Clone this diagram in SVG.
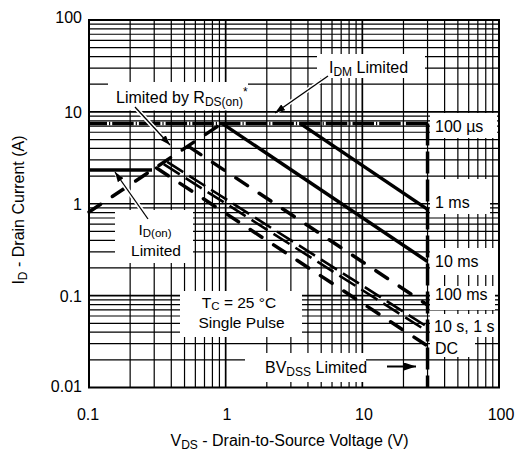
<svg xmlns="http://www.w3.org/2000/svg" width="517" height="451" viewBox="0 0 517 451">
<defs>
<style>
text{font-family:"Liberation Sans",Arial,Helvetica,sans-serif;font-size:16px;fill:#000}
.sub{font-size:12px}
.two{font-size:15.5px}
.two .sub{font-size:11.5px}
.grid{stroke:#000;stroke-width:1.2;fill:none}
.major{stroke:#000;stroke-width:1.7;fill:none}
.box{fill:#fff;stroke:none}
.curve{stroke:#000;fill:none;stroke-width:3.5}
.dash{stroke-dasharray:14 14;stroke-linecap:round}
.dbl{stroke-width:2.6;stroke-dasharray:19 7}
.halo{stroke:#fff;stroke-width:4.5;fill:none}
.arrow{stroke:#000;stroke-width:1.3;fill:none;marker-end:url(#ah)}
</style>
<marker id="ah" viewBox="0 0 10 7" refX="10" refY="3.5" markerWidth="10" markerHeight="7" markerUnits="userSpaceOnUse" orient="auto"><path d="M0,0 L10,3.5 L0,7 z" fill="#000"/></marker>
<marker id="ah2" viewBox="0 0 12 8" refX="12" refY="4" markerWidth="12" markerHeight="8" markerUnits="userSpaceOnUse" orient="auto"><path d="M0,0 L12,4 L0,8 z" fill="#000"/></marker>
</defs>
<rect width="517" height="451" fill="#fff"/>
<g id="grid">
<path class="grid" d="M130.14 20V387.5M154.21 20V387.5M171.28 20V387.5M184.53 20V387.5M195.35 20V387.5M204.5 20V387.5M212.42 20V387.5M219.42 20V387.5M266.81 20V387.5M290.88 20V387.5M307.95 20V387.5M321.2 20V387.5M332.02 20V387.5M341.17 20V387.5M349.09 20V387.5M356.09 20V387.5M403.48 20V387.5M427.55 20V387.5M444.62 20V387.5M457.87 20V387.5M468.69 20V387.5M477.84 20V387.5M485.76 20V387.5M492.76 20V387.5
M89 359.84H499M89 343.66H499M89 332.19H499M89 323.28H499M89 316.01H499M89 309.86H499M89 304.53H499M89 299.83H499M89 267.97H499M89 251.79H499M89 240.32H499M89 231.41H499M89 224.14H499M89 217.99H499M89 212.66H499M89 207.96H499M89 176.09H499M89 159.91H499M89 148.44H499M89 139.53H499M89 132.26H499M89 126.11H499M89 120.78H499M89 116.08H499M89 84.22H499M89 68.04H499M89 56.57H499M89 47.66H499M89 40.39H499M89 34.24H499M89 28.91H499M89 24.21H499"/>
<path class="major" d="M225.67 20V387.5M362.34 20V387.5M89 295.63H499M89 203.75H499M89 111.88H499"/>
</g>
<g id="label-boxes">
<rect class="box" x="108" y="82" width="140" height="28.5"/>
<rect class="box" x="317" y="54" width="108" height="24"/>
<rect class="box" x="115" y="210" width="78" height="53"/>
<rect class="box" x="180" y="291" width="122" height="46"/>
<rect class="box" x="245" y="353" width="121" height="29"/>
<rect class="box" x="430" y="113" width="67" height="25"/>
<rect class="box" x="430" y="179" width="60" height="35"/>
<rect class="box" x="430" y="248" width="70" height="27"/>
<rect class="box" x="430" y="286" width="65" height="24"/>
<rect class="box" x="430" y="314" width="68" height="23"/>
<rect class="box" x="430" y="336" width="45" height="21"/>
</g>
<rect id="frame" x="89" y="20" width="410" height="367.5" fill="none" stroke="#000" stroke-width="2"/>
<g id="connectors">
<path id="idm-100us" class="curve" d="M89 123.4H427.55" stroke-width="5" stroke-dasharray="21.5 2 1.2 2" stroke-dashoffset="3.5"/>
<path id="bvdss-dc" class="curve" d="M427.55 123.4V387.5" stroke-dasharray="22 6"/>
<path id="rds-on" class="curve dash" d="M89 212L222 123.4" stroke-width="4" stroke-dasharray="12 16"/>
<path id="id-on" class="curve" d="M89 170H152" stroke-width="4"/>
<path id="ms1" class="curve" d="M300 123.4L427.55 209.4"/>
<path id="ms10" class="curve" d="M222 123.4L427.55 261.5"/>
<path id="ms100" class="curve dash" d="M189.2 146.9L427.55 305"/>
<path id="s10" class="curve dbl" d="M167.2 161.9L427.55 327"/>
<path id="s1" class="curve dbl" d="M163.7 164.2L427.55 331.5"/>
<path id="dc" class="curve dash" d="M156.6 168L427.55 346"/>
<path class="halo" d="M135 107L168 143"/>
<path class="arrow" d="M135 107L170 145"/>
<path class="halo" d="M148 219L116.5 174"/>
<path class="arrow" d="M148 219L115 172"/>
<path class="halo" d="M328 76L277 111.5"/>
<path class="arrow" d="M328 76L275 113"/>
<path d="M387 366.5H416" stroke="#000" stroke-width="2" marker-end="url(#ah2)"/>
</g>
<g id="labels">
<text x="116" y="103">Limited by R<tspan class="sub" dy="3">DS(on)</tspan><tspan class="sub" dy="-10">*</tspan></text>
<text x="329" y="73">I<tspan class="sub" dy="3">DM</tspan><tspan dy="-3"> Limited</tspan></text>
<text class="two" x="155" y="234.5" text-anchor="middle">I<tspan class="sub" dy="2.5">D(on)</tspan></text>
<text class="two" x="156" y="255.5" text-anchor="middle">Limited</text>
<text class="two" x="239" y="307.5" text-anchor="middle">T<tspan class="sub" dy="2.5">C</tspan><tspan dy="-2.5"> = 25 °C</tspan></text>
<text class="two" x="241.5" y="327.5" text-anchor="middle">Single Pulse</text>
<text x="265" y="373">BV<tspan class="sub" dy="3">DSS</tspan><tspan dy="-3"> Limited</tspan></text>
<text x="435" y="131.5">100 µs</text>
<text x="435" y="208">1 ms</text>
<text x="435" y="267">10 ms</text>
<text x="435" y="300">100 ms</text>
<text x="434" y="331.5">10 s, 1 s</text>
<text x="435" y="354">DC</text>
</g>
<g id="axes">
<text x="82" y="22.5" text-anchor="end">100</text>
<text x="82" y="117.5" text-anchor="end">10</text>
<text x="82" y="210" text-anchor="end">1</text>
<text x="82" y="301.5" text-anchor="end">0.1</text>
<text x="82" y="391.5" text-anchor="end">0.01</text>
<text x="88" y="420" text-anchor="middle">0.1</text>
<text x="227" y="420" text-anchor="middle">1</text>
<text x="364" y="420" text-anchor="middle">10</text>
<text x="501" y="420" text-anchor="middle">100</text>
<text x="289.5" y="446" text-anchor="middle">V<tspan class="sub" dy="3">DS</tspan><tspan dy="-3"> - Drain-to-Source Voltage (V)</tspan></text>
<text transform="translate(24 210) rotate(-90)" text-anchor="middle">I<tspan class="sub" dy="3">D</tspan><tspan dy="-3"> - Drain Current (A)</tspan></text>
</g>
</svg>
